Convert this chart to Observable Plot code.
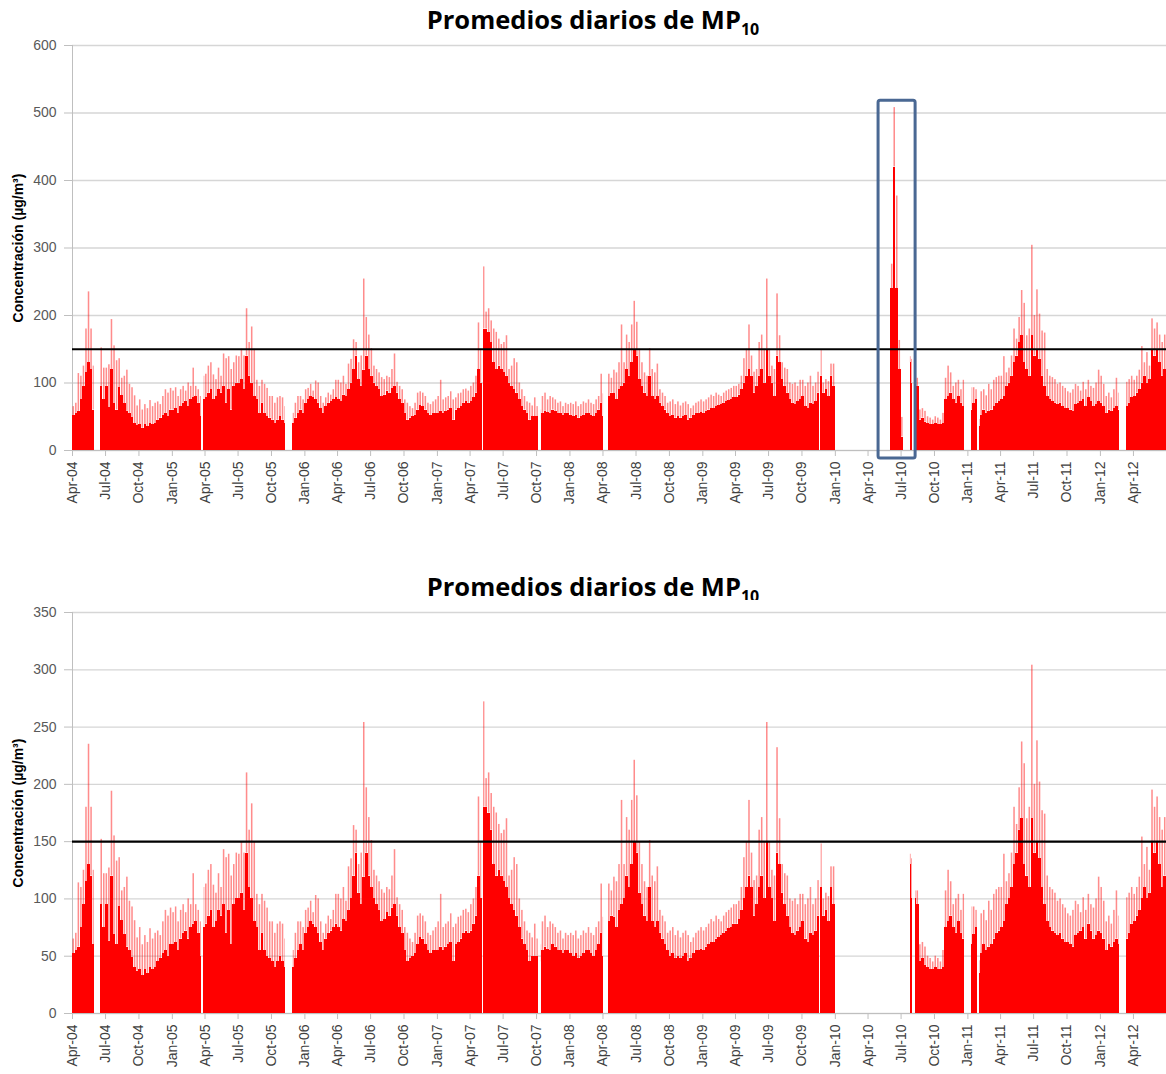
<!DOCTYPE html>
<html><head><meta charset="utf-8">
<script src="https://cdn.jsdelivr.net/npm/d3@7"></script>
<script src="https://cdn.jsdelivr.net/npm/@observablehq/plot@0.6"></script>
<style>
body{margin:0;background:#fff;width:1166px;height:1074px;position:relative;overflow:hidden;font-family:"Liberation Sans",Arial,sans-serif}
.title{position:absolute;left:10px;width:1166px;text-align:center;font-family:"Open Sans",sans-serif;font-weight:bold;font-size:25.5px;color:#000;line-height:30px}
.title sub{font-size:16px;vertical-align:-6px;line-height:0}
.panel{position:absolute;left:0}
</style></head><body>
<div class="title" style="top:4px">Promedios diarios de MP<sub>10</sub></div>
<div class="panel" id="p1" style="top:35px"></div>
<div class="title" style="top:571px">Promedios diarios de MP<sub>10</sub></div>
<div class="panel" id="p2" style="top:600px"></div>
<script>
// Quarter tick labels (x axis)
const tickLabels = ["Apr-04","Jul-04","Oct-04","Jan-05","Apr-05","Jul-05","Oct-05","Jan-06","Apr-06","Jul-06","Oct-06","Jan-07","Apr-07","Jul-07","Oct-07","Jan-08","Apr-08","Jul-08","Oct-08","Jan-09","Apr-09","Jul-09","Oct-09","Jan-10","Apr-10","Jul-10","Oct-10","Jan-11","Apr-11","Jul-11","Oct-11","Jan-12","Apr-12"];

// Weekly maxima of the daily PM10 averages (13 weeks per quarter), µg/m³
const peakByQuarter = [
 [65,70,114,110,125,180,235,180,125,null,null,152,122],
 [122,127,194,155,133,136,107,110,119,98,93,81,66],
 [75,60,68,62,74,65,70,72,68,80,90,85,92],
 [88,93,80,90,95,88,100,95,122,95,90,80,110],
 [113,125,130,112,105,122,110,143,136,139,120,130,140],
 [139,150,140,210,160,183,150,104,95,104,98,92,80],
 [80,70,78,80,78,65,null,null,55,70,80,80,75],
 [90,92,98,88,103,100,80,70,78,85,82,90,104],
 [104,100,110,98,128,135,164,160,130,140,254,197,171],
 [151,125,120,115,108,105,110,108,120,143,101,95,90],
 [75,70,65,62,70,85,87,85,80,70,68,72,75],
 [80,104,75,78,80,87,75,78,84,85,90,91,88],
 [95,100,110,189,150,272,205,210,192,180,175,165,157],
 [160,170,120,125,136,130,100,90,80,72,70,66,78],
 [65,60,80,85,75,80,78,75,70,72,65,70,68],
 [70,68,72,65,68,72,70,75,70,68,75,80,113],
 [84,60,113,107,119,115,130,186,130,171,160,186,221],
 [190,150,130,115,110,151,120,115,128,90,85,80,70],
 [72,75,68,72,66,70,72,68,62,66,70,72,75],
 [72,75,78,82,80,85,82,80,85,88,90,92,95],
 [95,98,110,136,150,186,140,116,120,160,171,150,254],
 [150,125,120,232,170,130,122,120,100,98,100,95,104],
 [104,95,100,110,95,100,116,148,100,105,102,128,128],
 [null,null,null,null,null,null,null,null,null,null,null,null,null],
 [null,null,null,null,null,null,null,null,null,null,null,null,null],
 [null,null,null,139,135,107,107,60,62,58,50,48,45],
 [50,48,45,55,107,125,115,95,100,104,90,104,null],
 [null,93,93,90,46,87,90,81,98,90,104,108,110],
 [110,139,115,122,140,180,165,197,237,218,170,180,304],
 [200,238,202,177,174,120,110,108,105,98,100,95,92],
 [87,85,90,98,95,88,101,90,104,95,92,100,119],
 [110,98,80,85,78,90,107,85,null,null,101,105,110],
 [104,110,119,154,130,145,125,195,180,189,171,160,171]
];

// Typical (dense) daily level in each week, µg/m³
const baseByQuarter = [
 [52,55,58,75,95,115,130,120,60,null,null,95,75],
 [95,63,120,69,60,93,81,69,58,55,49,40,37],
 [38,33,38,35,40,38,40,45,48,52,55,50,60],
 [60,62,55,65,70,72,65,75,78,80,70,50,75],
 [78,85,90,75,80,90,85,95,70,90,60,95,100],
 [100,105,90,140,110,100,80,75,55,70,55,50,48],
 [45,40,45,50,45,40,null,null,40,48,55,60,55],
 [70,75,80,78,75,70,62,55,65,70,72,75,78],
 [75,72,82,80,90,100,120,140,105,95,119,140,120],
 [110,100,95,90,80,82,88,85,92,95,85,75,70],
 [55,45,48,50,52,60,66,65,60,55,52,55,55],
 [55,58,55,58,60,62,45,60,62,65,70,72,70],
 [72,78,85,120,100,180,180,175,160,130,120,125,120],
 [115,110,100,95,90,85,75,65,60,55,45,50,50],
 [50,45,55,58,56,55,60,58,55,55,52,55,55],
 [52,50,52,48,50,52,55,55,52,50,55,60,70],
 [50,45,80,85,84,75,90,95,100,120,110,130,150],
 [140,105,95,85,80,110,80,75,80,70,65,60,55],
 [50,52,48,50,48,50,52,45,48,52,55,55,56],
 [55,58,60,62,62,65,66,68,70,72,74,75,78],
 [78,82,90,100,110,120,110,85,95,110,120,100,150],
 [110,100,80,140,130,105,95,85,75,70,68,72,75],
 [80,65,62,70,68,72,85,110,85,90,80,110,95],
 [null,null,null,null,null,null,null,null,null,null,null,null,null],
 [null,null,null,null,null,null,null,null,null,null,null,null,null],
 [null,null,null,130,100,100,95,45,48,42,40,38,38],
 [40,38,38,40,75,80,85,75,70,80,70,65,null],
 [null,60,69,75,35,52,60,55,58,60,65,70,72],
 [75,80,95,100,110,130,140,160,170,130,120,110,170],
 [140,150,135,110,95,80,75,72,70,68,70,65,62],
 [62,60,58,68,70,72,75,65,78,72,65,68,72],
 [70,65,55,60,58,62,65,60,null,null,65,70,78],
 [80,85,90,100,110,100,105,150,140,150,130,110,120]
];

// June 2010 episode (shown only in the upper chart), weekly from spikeStart
const spikeStart = "2010-06-03";
const spikePeak = [276, 508, 377, 163, 49];
const spikeBase = [240, 420, 240, 120, 20];

// Periods without data
const missingFrom = ["2004-06-01","2005-03-23","2005-11-08","2007-05-04","2007-10-07","2008-04-03","2009-11-19","2010-01-01","2010-08-02","2010-12-24","2011-01-28","2012-02-22"];
const missingTo   = ["2004-06-17","2005-03-29","2005-11-29","2007-05-07","2007-10-14","2008-04-15","2009-11-22","2010-07-26","2010-08-10","2011-01-12","2011-02-02","2012-03-12"];

const limitValue = [150];
const yTicksTop = [0,100,200,300,400,500,600];
const yTicksBottom = [0,50,100,150,200,250,300,350];
const boxFrom = ["2010-04-30"], boxTo = ["2010-08-10"], boxLow = [-12], boxHigh = [518];
const yTitle = "Concentración (µg/m³)";

// ---- build rows ----
const parse = d3.utcParse("%b-%y");
const qStarts = tickLabels.map(parse);
const xEnd = d3.utcMonth.offset(qStarts[qStarts.length-1], 3);
const qEnds = qStarts.map((d,i) => i+1 < qStarts.length ? qStarts[i+1] : xEnd);
const missing = missingFrom.map((f,i) => [new Date(f), new Date(missingTo[i])]);
function cut(a, b) {
  let segs = [[+a, +b]];
  for (const [ms, me] of missing) {
    segs = segs.flatMap(([s, e]) => {
      if (+me <= s || +ms >= e) return [[s, e]];
      const out = [];
      if (+ms > s) out.push([s, +ms]);
      if (+me < e) out.push([+me, e]);
      return out;
    });
  }
  return segs;
}
const SPIKE = 0.2; // spike drawn on the middle part of each week
const mainBase = [], mainPeak = [];
qStarts.forEach((qs, qi) => {
  const span = qEnds[qi] - qs;
  peakByQuarter[qi].forEach((p, k) => {
    const b = baseByQuarter[qi][k];
    if (p == null) return;
    const a0 = +qs + span*k/13, a1 = +qs + span*(k+1)/13;
    for (const [s, e] of cut(a0, a1)) {
      mainBase.push({s: new Date(s), e: new Date(e), v: b});
      const w = e - s;
      mainPeak.push({s: new Date(s + w*SPIKE), e: new Date(e - w*SPIKE), lo: b, v: p});
    }
  });
});
const spikeBaseRows = [], spikePeakRows = [];
const sp0 = new Date(spikeStart);
spikePeak.forEach((p, i) => {
  const s = +sp0 + i*7*864e5, e = s + 7*864e5, w = e - s;
  spikeBaseRows.push({s: new Date(s), e: new Date(e), v: spikeBase[i]});
  spikePeakRows.push({s: new Date(s + w*SPIKE), e: new Date(e - w*SPIKE), lo: spikeBase[i], v: p});
});
const box = boxFrom.map((f,i) => ({from: new Date(f), to: new Date(boxTo[i]), lo: boxLow[i], hi: boxHigh[i]}));

function panel({yTicks, marginTop, plotH, withSpike}) {
  const baseRows = withSpike ? mainBase.concat(spikeBaseRows) : mainBase;
  const peakRows = withSpike ? mainPeak.concat(spikePeakRows) : mainPeak;
  return Plot.plot({
    width: 1166, height: marginTop + plotH + 60,
    marginLeft: 72, marginRight: 0, marginTop, marginBottom: 60,
    style: {fontFamily: '"Liberation Sans", Arial, sans-serif', fontSize: "14px", color: "#595959", background: "#fff", overflow: "visible"},
    x: {type: "utc", domain: [qStarts[0], xEnd]},
    y: {domain: [0, yTicks[yTicks.length-1]]},
    marks: [
      Plot.gridY(yTicks, {stroke: "#d6d6d6", strokeOpacity: 1, strokeWidth: 1.3}),
      Plot.axisY({ticks: yTicks, tickSize: 8, tickPadding: 8, stroke: "#bfbfbf", fill: "#595959", label: null, fontSize: 14}),
      Plot.axisX({ticks: qStarts, tickFormat: d3.utcFormat("%b-%y"), tickRotate: -90, tickSize: 6, tickPadding: 5, stroke: "#bfbfbf", fill: "#404040", label: null, fontSize: 14}),
      Plot.ruleX([qStarts[0]], {stroke: "#bfbfbf"}),
      Plot.ruleY([0], {stroke: "#bfbfbf"}),
      Plot.rect(baseRows, {x1: "s", x2: "e", y1: 0, y2: "v", fill: "#ff0000", shapeRendering: "crispEdges"}),
      Plot.rect(peakRows, {x1: "s", x2: "e", y1: "lo", y2: "v", fill: "#ff0000", fillOpacity: 0.45}),
      Plot.ruleY(limitValue, {stroke: "#000", strokeWidth: 2.2}),
      withSpike ? Plot.rect(box, {x1: "from", x2: "to", y1: "lo", y2: "hi", fill: "none", stroke: "#4a6893", strokeWidth: 3, rx: 2}) : null,
      Plot.text([yTitle], {frameAnchor: "left", rotate: -90, dx: -54, textAnchor: "middle", fontWeight: "bold", fill: "#000", fontSize: 14})
    ]
  });
}
document.getElementById("p1").append(panel({yTicks: yTicksTop, marginTop: 10, plotH: 405, withSpike: true}));
document.getElementById("p2").append(panel({yTicks: yTicksBottom, marginTop: 12, plotH: 401, withSpike: false}));
</script>
</body></html>
